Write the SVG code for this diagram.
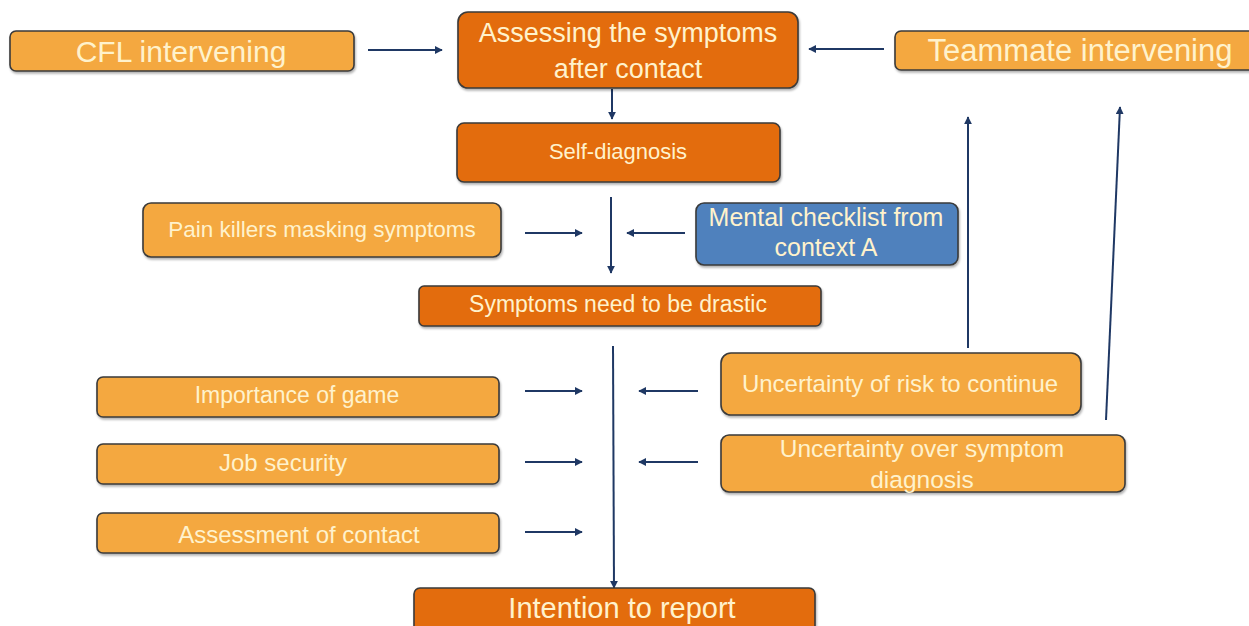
<svg xmlns="http://www.w3.org/2000/svg" width="1249" height="626" viewBox="0 0 1249 626">
<defs>
<marker id="ah" viewBox="0 0 10 10" refX="9" refY="5" markerWidth="4" markerHeight="4" orient="auto" markerUnits="strokeWidth">
<path d="M0,0 L10,5 L0,10 z" fill="#1F3864"/>
</marker>
<filter id="sh" x="-5%" y="-20%" width="110%" height="150%">
<feDropShadow dx="1" dy="2" stdDeviation="1.2" flood-color="#000" flood-opacity="0.3"/>
</filter>
</defs>
<style>
.lo{fill:#F4A83F;stroke:#3A3A3A;stroke-width:1.6;filter:url(#sh)}
.do{fill:#E36C0A;stroke:#3A3A3A;stroke-width:1.6;filter:url(#sh)}
.bl{fill:#4F81BD;stroke:#3A3A3A;stroke-width:1.6;filter:url(#sh)}
text{font-family:"Liberation Sans",Arial,sans-serif;fill:#FFF2CC;text-anchor:middle}
.c line{stroke:#1F3864;stroke-width:2;marker-end:url(#ah)}
</style>
<rect width="1249" height="626" fill="#FFFFFF"/>
<g class="c" id="connectors">
<line x1="368" y1="50" x2="442" y2="50"/>
<line x1="884" y1="49" x2="809" y2="49"/>
<line x1="612" y1="89" x2="612" y2="119"/>
<line x1="611" y1="197" x2="611" y2="273"/>
<line x1="525" y1="233" x2="582" y2="233"/>
<line x1="685" y1="233" x2="627" y2="233"/>
<line x1="613" y1="346" x2="614" y2="588"/>
<line x1="525" y1="391" x2="582" y2="391"/>
<line x1="525" y1="462" x2="582" y2="462"/>
<line x1="525" y1="532" x2="582" y2="532"/>
<line x1="698" y1="391" x2="639" y2="391"/>
<line x1="698" y1="462" x2="639" y2="462"/>
<line x1="968" y1="348" x2="968" y2="117"/>
<line x1="1106" y1="420" x2="1120" y2="107"/>
</g>
<g id="cfl"><rect class="lo" x="10" y="31" width="344" height="40" rx="6"/><text x="181" y="62" font-size="30">CFL intervening</text></g>
<g id="assessing"><rect class="do" x="458" y="12" width="340" height="76" rx="10"/><text x="628" y="42" font-size="27">Assessing the symptoms</text><text x="628" y="78" font-size="27">after contact</text></g>
<g id="teammate"><rect class="lo" x="895" y="31" width="360" height="39" rx="6"/><text x="1080" y="61" font-size="31">Teammate intervening</text></g>
<g id="self"><rect class="do" x="457" y="123" width="323" height="59" rx="7"/><text x="618" y="159" font-size="22">Self-diagnosis</text></g>
<g id="pain"><rect class="lo" x="143" y="203" width="358" height="54" rx="8"/><text x="322" y="237" font-size="22.5">Pain killers masking symptoms</text></g>
<g id="mental"><rect class="bl" x="696" y="203" width="262" height="62" rx="8"/><text x="826" y="226" font-size="25">Mental checklist from</text><text x="826" y="256" font-size="25">context A</text></g>
<g id="drastic"><rect class="do" x="419" y="286" width="402" height="40" rx="5"/><text x="618" y="312" font-size="23">Symptoms need to be drastic</text></g>
<g id="importance"><rect class="lo" x="97" y="377" width="402" height="40" rx="6"/><text x="297" y="403" font-size="23">Importance of game</text></g>
<g id="job"><rect class="lo" x="97" y="444" width="402" height="40" rx="6"/><text x="283" y="471" font-size="24">Job security</text></g>
<g id="contact"><rect class="lo" x="97" y="513" width="402" height="40" rx="6"/><text x="299" y="543" font-size="24">Assessment of contact</text></g>
<g id="risk"><rect class="lo" x="721" y="353" width="360" height="62" rx="10"/><text x="900" y="392" font-size="24">Uncertainty of risk to continue</text></g>
<g id="diag"><rect class="lo" x="721" y="435" width="404" height="57" rx="8"/><text x="922" y="457" font-size="24.5">Uncertainty over symptom</text><text x="922" y="488" font-size="24.5">diagnosis</text></g>
<g id="intention"><rect class="do" x="414" y="588" width="401" height="48" rx="6"/><text x="622" y="618" font-size="29">Intention to report</text></g>
</svg>
